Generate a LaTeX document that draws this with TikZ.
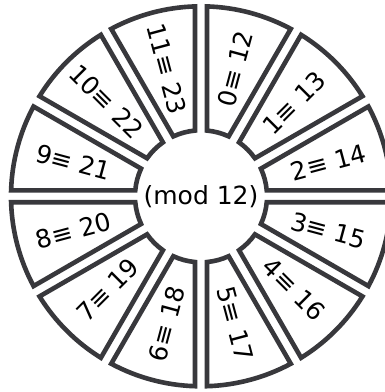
\documentclass[tikz,border=0pt]{standalone}
\usepackage{fontspec}
\setmainfont{DejaVu Sans}
\usepackage{tikz}
\usetikzlibrary{positioning}
\definecolor{ringgray}{RGB}{56,56,60}

\begin{document}
\begin{tikzpicture}[x=1pt, y=1pt, font=\fontsize{25}{25}\selectfont,
  sector/.style={draw=ringgray, line width=4.6pt, fill=white},
  residue/.style={inner sep=0pt}]
\useasboundingbox (-201,-195.7) rectangle (184,196.3);
\clip (-201,-195.7) rectangle (184,196.3);
\fill[white] (-201,-195.7) rectangle (184,196.3);

% ring of twelve residue classes
\foreach \k in {0,...,11}{
  \pgfmathsetmacro{\angA}{60-30*\k}
  \pgfmathsetmacro{\angB}{90-30*\k}
  \draw[sector] (\angA+1.8:190) arc[start angle=\angA+1.8, end angle=\angB-1.8, radius=190]
    -- (\angB-5.2:66) arc[start angle=\angB-5.2, end angle=\angA+5.2, radius=66] -- cycle;
}

\node[residue] (mod) at (0,0) {(mod 12)};

\node[residue, rotate=75] (c0) at (75:132) {0≡ 12};
\node[residue, rotate=45] (c1) at (45:132) {1≡ 13};
\node[residue, rotate=15] (c2) at (15:132) {2≡ 14};
\node[residue, rotate=-15] (c3) at (-15:132) {3≡ 15};
\node[residue, rotate=-45] (c4) at (-45:132) {4≡ 16};
\node[residue, rotate=-75] (c5) at (-75:132) {5≡ 17};
\node[residue, rotate=75] (c6) at (-105:132) {6≡ 18};
\node[residue, rotate=45] (c7) at (-135:132) {7≡ 19};
\node[residue, rotate=15] (c8) at (-165:132) {8≡ 20};
\node[residue, rotate=-15] (c9) at (165:132) {9≡ 21};
\node[residue, rotate=-45] (c10) at (135:134) {10≡ 22};
\node[residue, rotate=-75] (c11) at (105:132) {11≡ 23};
\end{tikzpicture}
\end{document}
